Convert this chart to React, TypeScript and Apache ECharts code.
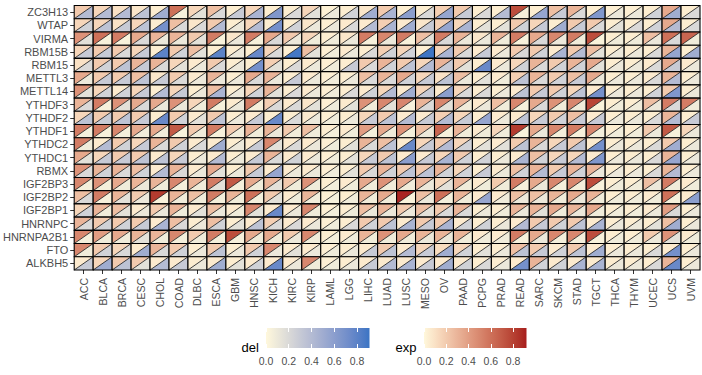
import React, { useEffect, useRef } from "react";
import * as echarts from "echarts";

const cancers = ["ACC","BLCA","BRCA","CESC","CHOL","COAD","DLBC","ESCA","GBM","HNSC","KICH","KIRC","KIRP","LAML","LGG","LIHC","LUAD","LUSC","MESO","OV","PAAD","PCPG","PRAD","READ","SARC","SKCM","STAD","TGCT","THCA","THYM","UCEC","UCS","UVM"];
const genes = ["ZC3H13","WTAP","VIRMA","RBM15B","RBM15","METTL3","METTL14","YTHDF3","YTHDF2","YTHDF1","YTHDC2","YTHDC1","RBMX","IGF2BP3","IGF2BP2","IGF2BP1","HNRNPC","HNRNPA2B1","FTO","ALKBH5"];

// exp values (upper-left triangle), one row per gene, columns follow `cancers`
const expValues: number[][] = [
  [.2,.15,.1,.08,.05,.6,.15,.25,.05,.15,.05,.05,.15,.03,.05,.08,.2,.05,.05,.18,.2,.05,.05,.75,.05,.25,.3,.05,.04,.04,.05,.35,.05],
  [.15,.15,.1,.15,.05,.25,.08,.2,.05,.15,.05,.05,.08,.04,.06,.06,.18,.06,.08,.18,.15,.05,.05,.2,.15,.05,.2,.2,.05,.05,.05,.35,.05],
  [.45,.6,.55,.35,.3,.3,.2,.55,.08,.55,.35,.2,.15,.05,.08,.55,.5,.55,.25,.55,.3,.08,.3,.55,.35,.5,.55,.75,.05,.05,.25,.6,.65],
  [.15,.2,.2,.15,.05,.2,.25,.05,.05,.05,.15,.04,.25,.04,.06,.05,.18,.15,.04,.15,.2,.06,.06,.2,.2,.06,.2,.25,.05,.05,.05,.3,.05],
  [.1,.2,.2,.3,.3,.15,.06,.2,.05,.05,.18,.05,.06,.04,.05,.2,.3,.2,.15,.3,.2,.05,.06,.15,.3,.2,.3,.35,.05,.05,.06,.35,.06],
  [.35,.2,.2,.25,.08,.2,.06,.3,.05,.35,.3,.05,.06,.04,.05,.25,.3,.35,.15,.1,.25,.05,.06,.18,.3,.2,.25,.35,.05,.05,.06,.3,.05],
  [.45,.15,.06,.15,.05,.15,.05,.25,.05,.15,.3,.05,.06,.04,.05,.06,.15,.06,.15,.06,.15,.05,.05,.06,.2,.2,.15,.06,.05,.05,.05,.2,.05],
  [.3,.55,.45,.35,.35,.45,.15,.55,.06,.55,.18,.06,.08,.04,.06,.45,.5,.5,.3,.5,.3,.06,.25,.5,.35,.45,.5,.78,.05,.05,.25,.55,.55],
  [.15,.2,.2,.2,.05,.2,.06,.2,.05,.06,.05,.05,.06,.04,.05,.15,.2,.06,.06,.18,.15,.05,.06,.06,.15,.2,.25,.06,.05,.05,.05,.3,.05],
  [.55,.55,.5,.35,.35,.7,.2,.55,.2,.3,.3,.2,.25,.05,.06,.4,.35,.45,.25,.65,.3,.06,.15,.82,.35,.5,.55,.5,.05,.05,.2,.7,.15],
  [.55,.06,.2,.15,.3,.2,.06,.06,.05,.06,.5,.06,.06,.04,.05,.3,.25,.06,.15,.2,.15,.05,.06,.2,.3,.15,.2,.06,.05,.05,.05,.2,.05],
  [.35,.15,.2,.2,.06,.15,.05,.06,.05,.06,.3,.06,.06,.04,.05,.15,.2,.06,.06,.15,.2,.05,.05,.06,.25,.15,.15,.06,.05,.05,.05,.3,.05],
  [.45,.3,.3,.25,.06,.3,.06,.35,.05,.2,.06,.06,.06,.04,.05,.2,.3,.2,.2,.3,.15,.05,.06,.25,.3,.2,.3,.3,.05,.05,.05,.3,.05],
  [.5,.45,.35,.3,.3,.5,.3,.55,.7,.35,.3,.2,.45,.05,.06,.35,.45,.35,.3,.15,.3,.06,.2,.55,.35,.5,.5,.75,.05,.05,.25,.55,.06],
  [.25,.55,.3,.2,.82,.3,.25,.55,.3,.6,.2,.06,.3,.04,.05,.3,.35,.9,.25,.6,.3,.06,.06,.25,.25,.3,.35,.3,.05,.05,.06,.6,.06],
  [.15,.3,.25,.06,.2,.3,.06,.25,.06,.5,.06,.06,.5,.04,.05,.25,.3,.2,.25,.2,.3,.05,.05,.3,.3,.35,.3,.35,.05,.05,.06,.4,.05],
  [.3,.2,.2,.2,.06,.25,.05,.25,.05,.06,.18,.06,.06,.04,.05,.2,.2,.06,.2,.2,.06,.05,.05,.06,.2,.2,.2,.06,.05,.05,.05,.25,.05],
  [.5,.4,.35,.3,.3,.5,.2,.55,.75,.35,.35,.2,.5,.05,.06,.3,.45,.35,.3,.3,.3,.06,.06,.55,.35,.5,.5,.75,.05,.05,.2,.45,.06],
  [.5,.2,.15,.06,.3,.2,.05,.2,.05,.2,.5,.06,.06,.04,.05,.06,.2,.06,.15,.12,.15,.05,.05,.25,.2,.06,.2,.06,.05,.05,.05,.06,.05],
  [.06,.15,.2,.2,.06,.06,.05,.06,.05,.06,.06,.06,.5,.04,.05,.06,.06,.06,.06,.06,.06,.05,.05,.06,.3,.06,.06,.06,.05,.05,.05,.3,.05],
];

// del values (lower-right triangle), same layout
const delValues: number[][] = [
  [.4,.4,.4,.35,.5,.05,.15,.2,.3,.45,.65,.2,.15,.1,.25,.5,.45,.6,.2,.55,.3,.2,.4,.05,.55,.3,.2,.65,.1,.1,.25,.5,.2],
  [.25,.35,.3,.35,.7,.2,.2,.4,.1,.4,.7,.25,.1,.1,.2,.4,.45,.5,.3,.55,.45,.15,.15,.25,.3,.5,.3,.2,.15,.2,.25,.4,.2],
  [.15,.04,.04,.2,.1,.1,.15,.04,.1,.05,.2,.1,.08,.08,.1,.05,.1,.04,.15,.2,.1,.1,.08,.04,.2,.1,.08,.03,.08,.08,.1,.2,.08],
  [.3,.3,.2,.3,.8,.25,.15,.8,.1,.75,.2,.88,.15,.08,.1,.2,.25,.25,.9,.45,.2,.3,.1,.2,.25,.45,.4,.15,.1,.1,.2,.55,.5],
  [.2,.25,.35,.3,.2,.15,.1,.2,.1,.7,.15,.2,.1,.08,.3,.2,.25,.35,.4,.3,.15,.75,.1,.25,.2,.25,.25,.15,.1,.1,.2,.3,.1],
  [.1,.3,.3,.35,.3,.2,.1,.1,.1,.2,.1,.3,.1,.08,.1,.2,.2,.25,.3,.35,.1,.15,.08,.35,.2,.25,.3,.1,.1,.1,.2,.4,.1],
  [.15,.25,.25,.3,.4,.3,.1,.45,.1,.25,.15,.2,.1,.08,.2,.25,.4,.5,.3,.6,.2,.2,.1,.35,.3,.25,.35,.7,.1,.1,.25,.65,.1],
  [.2,.05,.15,.2,.1,.1,.08,.05,.1,.05,.2,.2,.15,.08,.15,.08,.15,.05,.2,.15,.08,.1,.08,.05,.2,.08,.08,.03,.08,.08,.1,.2,.08],
  [.35,.3,.35,.3,.75,.25,.15,.35,.1,.3,.75,.2,.1,.08,.1,.3,.35,.4,.3,.4,.3,.55,.1,.35,.3,.25,.3,.3,.1,.1,.2,.4,.3],
  [.06,.05,.06,.08,.08,.04,.08,.05,.08,.08,.1,.08,.08,.06,.08,.06,.08,.06,.1,.05,.08,.08,.08,.03,.1,.06,.05,.06,.08,.08,.1,.05,.1],
  [.08,.4,.25,.3,.2,.25,.2,.5,.1,.3,.15,.2,.1,.08,.15,.2,.35,.75,.3,.4,.25,.15,.15,.35,.2,.3,.35,.7,.1,.1,.2,.5,.1],
  [.15,.3,.3,.35,.35,.3,.1,.4,.1,.3,.2,.25,.1,.08,.15,.3,.35,.6,.3,.45,.25,.25,.1,.45,.25,.3,.4,.65,.1,.1,.2,.55,.1],
  [.2,.25,.2,.25,.4,.2,.1,.15,.1,.3,.55,.1,.1,.08,.15,.2,.25,.35,.35,.25,.25,.3,.1,.25,.4,.3,.25,.1,.1,.1,.2,.4,.1],
  [.06,.06,.08,.1,.08,.06,.08,.15,.06,.08,.15,.08,.08,.06,.08,.08,.08,.08,.1,.15,.08,.08,.08,.05,.1,.06,.06,.04,.08,.08,.1,.08,.08],
  [.2,.05,.15,.1,.04,.08,.08,.06,.08,.06,.15,.08,.08,.06,.08,.08,.08,.03,.1,.06,.08,.55,.08,.1,.1,.08,.1,.08,.08,.08,.08,.06,.6],
  [.25,.08,.15,.1,.1,.08,.15,.1,.08,.15,.75,.1,.08,.06,.08,.1,.1,.1,.15,.2,.2,.1,.08,.1,.15,.08,.1,.08,.08,.08,.1,.2,.1],
  [.2,.25,.25,.3,.45,.2,.1,.25,.15,.35,.2,.2,.1,.08,.2,.25,.35,.45,.3,.45,.25,.25,.1,.4,.3,.25,.35,.45,.1,.1,.15,.5,.1],
  [.06,.08,.08,.15,.08,.06,.08,.06,.05,.08,.08,.1,.08,.06,.08,.08,.08,.08,.1,.1,.08,.08,.08,.05,.1,.06,.06,.04,.08,.08,.1,.15,.08],
  [.08,.25,.2,.5,.2,.25,.1,.35,.1,.25,.1,.15,.1,.08,.1,.3,.35,.4,.3,.5,.25,.15,.1,.35,.3,.25,.35,.5,.1,.1,.2,.7,.1],
  [.3,.5,.35,.15,.4,.3,.1,.5,.15,.25,.75,.1,.08,.08,.1,.3,.4,.45,.3,.5,.25,.2,.1,.7,.25,.25,.45,.45,.1,.1,.2,.75,.1],
];

const legendBreaks = [0, 0.2, 0.4, 0.6, 0.8];
const delLimits = [0, 0.91];
const expLimits = [0, 0.92];
const delLow = "#FFF8DC";
const delHigh = "#3A74C4";
const expLow = "#FFF8DC";
const expHigh = "#A71D1D";

// ---- Lab colour interpolation (like ggplot's gradient) ----
function hex2rgb(h: string) { const n = parseInt(h.slice(1), 16); return [(n >> 16) & 255, (n >> 8) & 255, n & 255]; }
function toLin(c: number) { c /= 255; return c <= 0.04045 ? c / 12.92 : Math.pow((c + 0.055) / 1.055, 2.4); }
function fromLin(c: number) { const v = c <= 0.0031308 ? 12.92 * c : 1.055 * Math.pow(c, 1 / 2.4) - 0.055; return Math.max(0, Math.min(255, Math.round(v * 255))); }
const Xn = 0.95047, Yn = 1, Zn = 1.08883;
function f(t: number) { return t > 0.008856 ? Math.cbrt(t) : 7.787 * t + 16 / 116; }
function finv(t: number) { return t > 0.206893 ? t * t * t : (t - 16 / 116) / 7.787; }
function rgb2lab(c: number[]) {
  const R = toLin(c[0]), G = toLin(c[1]), B = toLin(c[2]);
  const X = (0.4124 * R + 0.3576 * G + 0.1805 * B) / Xn;
  const Y = (0.2126 * R + 0.7152 * G + 0.0722 * B) / Yn;
  const Z = (0.0193 * R + 0.1192 * G + 0.9505 * B) / Zn;
  const fx = f(X), fy = f(Y), fz = f(Z);
  return [116 * fy - 16, 500 * (fx - fy), 200 * (fy - fz)];
}
function lab2rgb(l: number[]) {
  const fy = (l[0] + 16) / 116, fx = fy + l[1] / 500, fz = fy - l[2] / 200;
  const X = finv(fx) * Xn, Y = finv(fy) * Yn, Z = finv(fz) * Zn;
  const R = 3.2406 * X - 1.5372 * Y - 0.4986 * Z;
  const G = -0.9689 * X + 1.8758 * Y + 0.0415 * Z;
  const B = 0.0557 * X - 0.204 * Y + 1.057 * Z;
  return [fromLin(R), fromLin(G), fromLin(B)];
}
function makeScale(lo: string, hi: string, lim: number[]) {
  const A = rgb2lab(hex2rgb(lo)), B = rgb2lab(hex2rgb(hi));
  return (v: number) => {
    let t = (v - lim[0]) / (lim[1] - lim[0]);
    t = Math.max(0, Math.min(1, t));
    const c = lab2rgb([0, 1, 2].map((i) => A[i] + (B[i] - A[i]) * t));
    return `rgb(${c[0]},${c[1]},${c[2]})`;
  };
}
const delColor = makeScale(delLow, delHigh, delLimits);
const expColor = makeScale(expLow, expHigh, expLimits);

function gradientStops(scale: (v: number) => string, lim: number[]) {
  const stops = [];
  for (let i = 0; i <= 20; i++) {
    const t = i / 20;
    stops.push({ offset: t, color: scale(lim[0] + t * (lim[1] - lim[0])) });
  }
  return stops;
}

const FONT = 'Arial, "Liberation Sans", sans-serif';

export default function App() {
  const ref = useRef<HTMLDivElement>(null);
  useEffect(() => {
    if (!ref.current) return;
    const chart = echarts.init(ref.current, undefined, { renderer: "svg" });

    const cells: number[][] = [];
    genes.forEach((g, yi) => {
      cancers.forEach((c, xi) => {
        cells.push([xi, yi, expValues[yi][xi], delValues[yi][xi]]);
      });
    });

    const legendAxis = (gridIndex: number, lim: number[], pos: "bottom" | "top") => ({
      type: "value",
      gridIndex,
      position: pos,
      min: lim[0],
      max: lim[1],
      interval: 0.2,
      z: 10,
      axisLine: { show: false },
      splitLine: { show: false },
      axisTick: {
        show: true,
        inside: true,
        length: 4,
        customValues: legendBreaks,
        lineStyle: { color: "#ffffff", width: 1 },
      },
      axisLabel: {
        show: pos === "bottom",
        customValues: legendBreaks,
        formatter: (v: number) => v.toFixed(1),
        margin: 7,
        fontSize: 10.5,
        color: "#4D4D4D",
        fontFamily: FONT,
      },
    });

    const legendRender = (scale: (v: number) => string, lim: number[]) => (params: any, api: any) => {
      const p0 = api.coord([api.value(0), 0]);
      const p1 = api.coord([api.value(1), 1]);
      return {
        type: "rect",
        shape: { x: p0[0], y: p1[1], width: p1[0] - p0[0], height: p0[1] - p1[1] },
        style: { fill: new echarts.graphic.LinearGradient(0, 0, 1, 0, gradientStops(scale, lim)) },
      };
    };

    const option: any = {
      animation: false,
      backgroundColor: "#ffffff",
      grid: [
        { left: 69.5, top: 5.5, width: 630.5, height: 264.5 },
        { left: 266, top: 328, width: 103.5, height: 20 },
        { left: 424, top: 328, width: 102.5, height: 20 },
      ],
      xAxis: [
        {
          type: "category",
          gridIndex: 0,
          data: cancers,
          axisLine: { show: false },
          axisTick: { show: true, alignWithLabel: true, length: 4, lineStyle: { color: "#333333" } },
          axisLabel: { rotate: 90, interval: 0, fontSize: 10.5, color: "#4D4D4D", margin: 8, fontFamily: FONT },
          splitLine: { show: false },
        },
        legendAxis(1, delLimits, "bottom"),
        legendAxis(1, delLimits, "top"),
        legendAxis(2, expLimits, "bottom"),
        legendAxis(2, expLimits, "top"),
      ],
      yAxis: [
        {
          type: "category",
          gridIndex: 0,
          data: genes,
          inverse: true,
          axisLine: { show: false },
          axisTick: { show: true, alignWithLabel: true, length: 4, lineStyle: { color: "#333333" } },
          axisLabel: { interval: 0, fontSize: 11, color: "#4D4D4D", margin: 6, fontFamily: FONT },
          splitLine: { show: false },
        },
        { type: "value", gridIndex: 1, min: 0, max: 1, show: false },
        { type: "value", gridIndex: 2, min: 0, max: 1, show: false },
      ],
      series: [
        {
          type: "custom",
          xAxisIndex: 0,
          yAxisIndex: 0,
          encode: { x: 0, y: 1 },
          data: cells,
          renderItem: (params: any, api: any) => {
            const c = api.coord([api.value(0), api.value(1)]);
            const s = api.size([1, 1]);
            const w = s[0], h = s[1];
            const l = c[0] - w / 2, r = c[0] + w / 2, t = c[1] - h / 2, b = c[1] + h / 2;
            return {
              type: "group",
              children: [
                { type: "polygon", shape: { points: [[l, t], [r, t], [l, b]] }, style: { fill: expColor(api.value(2)) } },
                { type: "polygon", shape: { points: [[r, t], [r, b], [l, b]] }, style: { fill: delColor(api.value(3)) } },
                { type: "line", shape: { x1: l, y1: b, x2: r, y2: t }, style: { stroke: "#111111", lineWidth: 0.8 } },
                { type: "rect", shape: { x: l, y: t, width: w, height: h }, style: { fill: "none", stroke: "#000000", lineWidth: 1.1 } },
              ],
            };
          },
        },
        {
          type: "custom",
          xAxisIndex: 1,
          yAxisIndex: 1,
          data: [[delLimits[0], delLimits[1]]],
          encode: { x: [0, 1] },
          renderItem: legendRender(delColor, delLimits),
        },
        {
          type: "custom",
          xAxisIndex: 3,
          yAxisIndex: 2,
          data: [[expLimits[0], expLimits[1]]],
          encode: { x: [0, 1] },
          renderItem: legendRender(expColor, expLimits),
        },
      ],
      graphic: [
        { type: "text", left: 241.5, top: 340.5, style: { text: "del", fontSize: 13, fill: "#000000", fontFamily: FONT } },
        { type: "text", left: 395.5, top: 340.5, style: { text: "exp", fontSize: 13, fill: "#000000", fontFamily: FONT } },
      ],
    };

    chart.setOption(option);
    return () => chart.dispose();
  }, []);

  return <div ref={ref} style={{ position: "fixed", left: 0, top: 0, width: 702, height: 375 }} />;
}
